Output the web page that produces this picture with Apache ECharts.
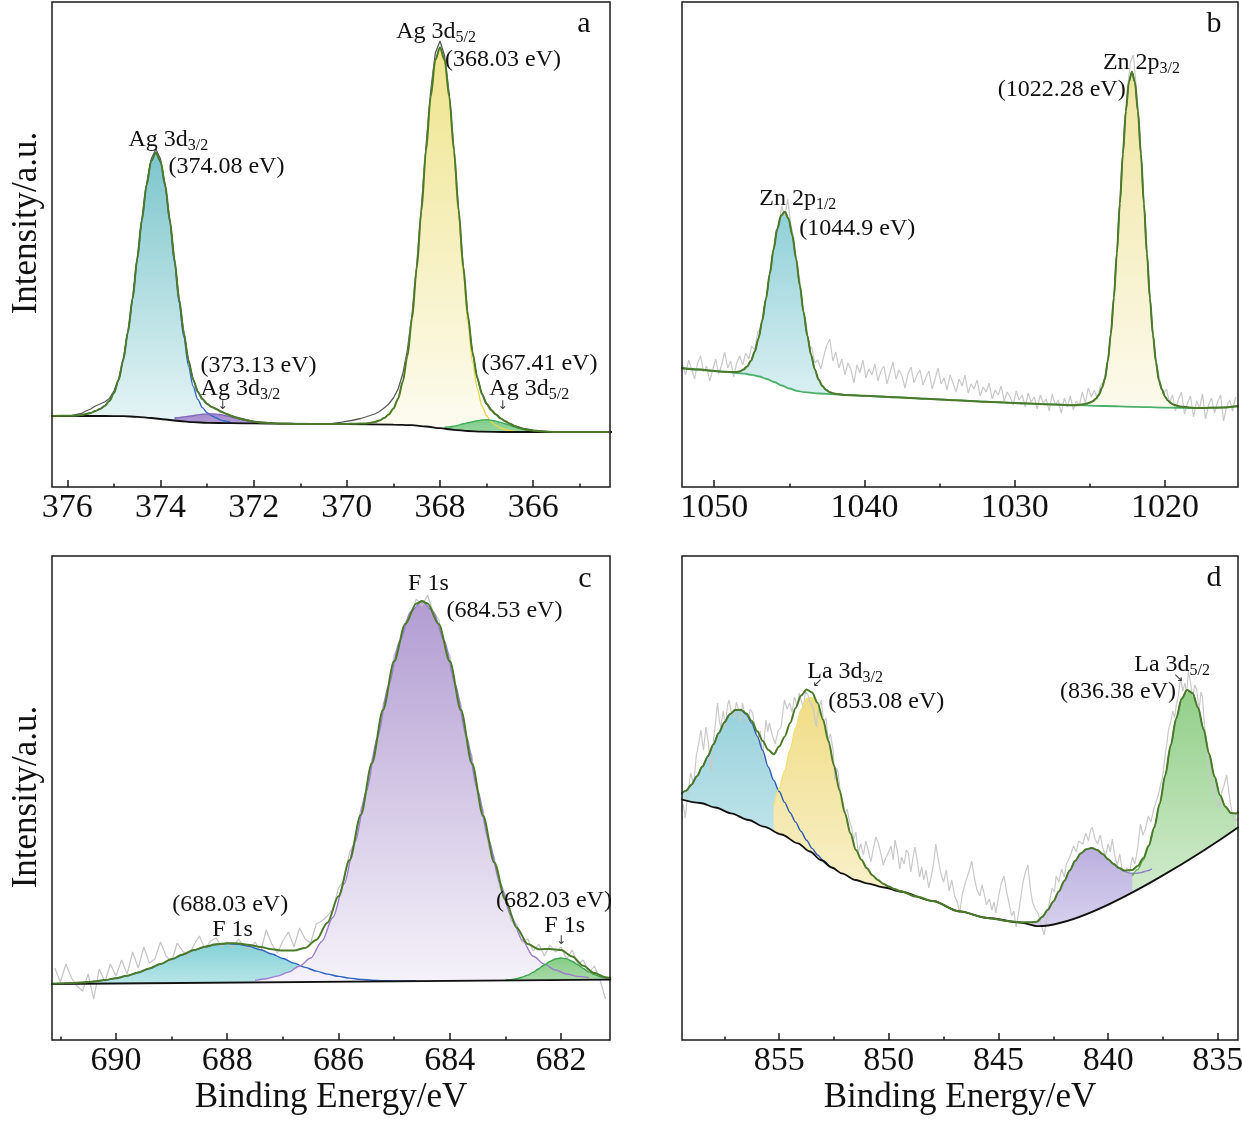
<!DOCTYPE html>
<html>
<head>
<meta charset="utf-8" />
<title>XPS Ag 3d / Zn 2p / F 1s / La 3d</title>
<script src="https://cdn.jsdelivr.net/npm/echarts@6.0.0/dist/echarts.min.js"></script>
<style>
  html, body { margin: 0; padding: 0; background: #fff; }
  #main { width: 1242px; height: 1123px; }
</style>
</head>
<body>
<div id="main"></div>
<script>
// ---------- panel a : Ag 3d ----------
var aTicks = [376, 374, 372, 370, 368, 366];
var aMinor = [375, 373, 371, 369, 367, 365];
var aBg = [[376.4,71],[375.2,71],[374.8,70.8],[374.5,70.2],[374.2,69],[373.9,67.5],[373.6,66],[373.3,64.8],[373.0,64.2],[372.5,63.8],[371.5,63.3],[370.0,62.8],[369.0,62.4],[368.6,61.8],[368.3,60.5],[368.0,58.8],[367.7,57.2],[367.4,56],[367.1,55.3],[366.6,55],[364.3,55]];
// component curves, 0.1 eV apart
var aAg32From = 375.6;
var aAg32 = [73,74,76,78,81,86,94,107,127,155,188,228,267,302,326,334.5,325,300.5,265,224.5,184,149.6,121,100.8,87.6,79.4,74.2,71.1,69,66.9,65.85,64.8];
var aAg32bFrom = 373.7;
var aAg32b = [69,69.4,70,70.7,71.3,72.1,72.7,73,73.1,72.8,72.2,71.3,70.3,69.2,68,67,66,65.3,64.7,64.2];
var aAg52From = 369.6;
var aAg52 = [63.6,64.1,65,66.5,68.9,72.4,78.4,88.3,105.2,131,168.8,218.4,276,336.5,390,426.4,438.8,425.3,387.7,333.2,271.8,213.4,163,124.7,98.5,81.3,71.2,65.1,61.55,59,57.5,56.5,56];
var aAg52bFrom = 367.9;
var aAg52b = [59.9,60.1,60.8,61.9,63.2,64.2,65.3,66.3,67,67.2,66.8,65.85,64.6,63.2,61.8,60.1,58.6,57.4,56.6,56,55.6,55.3];
var aFit = [[376.4,71],[375.9,71.2],[375.7,72],[375.6,73],[375.5,74],[375.4,76],[375.3,78],[375.2,81],[375.1,86],[375.0,94],[374.9,107],[374.8,127],[374.7,155],[374.6,188],[374.5,228],[374.4,267],[374.3,302],[374.2,326],[374.1,334.5],[374.0,325.8],[373.9,301.7],[373.8,266.8],[373.7,227],[373.6,187.4],[373.5,154],[373.4,126.5],[373.3,107.3],[373.2,95.1],[373.1,87.7],[373.0,83],[372.9,80.1],[372.8,77.8],[372.7,75.2],[372.6,73.3],[372.5,71.3],[372.4,69.7],[372.3,68.3],[372.2,67.2],[372.1,66.2],[372.0,65.4],[371.8,64.3],[371.5,63.5],[371.0,63.1],[370.5,63],[370.0,63.1],[369.8,63.3],[369.6,63.6],[369.5,64.1],[369.4,65],[369.3,66.5],[369.2,68.9],[369.1,72.4],[369.0,78.4],[368.9,88.3],[368.8,105.2],[368.7,131],[368.6,168.8],[368.5,218.4],[368.4,276],[368.3,336.5],[368.2,390.3],[368.1,427],[368.0,439.8],[367.9,426.9],[367.8,390.1],[367.7,336.8],[367.6,276.9],[367.5,220.2],[367.4,171.2],[367.3,134.3],[367.2,109.3],[367.1,93],[367.0,83.2],[366.9,76.8],[366.8,72.4],[366.7,68.6],[366.6,65.7],[366.5,63.3],[366.4,61.1],[366.3,59.3],[366.2,57.9],[366.1,57],[366.0,56.3],[365.8,55.5],[365.5,55.1],[364.3,55]];
var aRaw = [[376.4,71.5],[376.1,70.8],[375.9,71.6],[375.7,73.5],[375.6,76],[375.5,78],[375.4,81],[375.3,83],[375.2,85],[375.1,88.5],[375.0,96],[374.9,108],[374.8,128],[374.7,156],[374.6,189],[374.5,229],[374.4,268],[374.3,303],[374.2,328],[374.1,338],[374.0,328],[373.9,302],[373.8,267],[373.7,228],[373.6,188],[373.5,155],[373.4,127],[373.3,108],[373.2,96],[373.1,88.5],[373.0,83.5],[372.9,80],[372.8,78.3],[372.7,75.8],[372.6,73.5],[372.5,71.8],[372.4,70.2],[372.2,67.8],[372.0,65.7],[371.8,64.8],[371.5,63.4],[371.2,63.6],[370.9,62.9],[370.6,63.3],[370.3,63.6],[370.1,64.8],[369.9,66.5],[369.7,68.5],[369.6,70],[369.5,71.5],[369.4,73],[369.3,75.5],[369.2,79],[369.1,83],[369.0,89],[368.9,98],[368.8,113],[368.7,137],[368.6,173],[368.5,222],[368.4,280],[368.3,341],[368.2,396],[368.1,434],[368.0,446],[367.9,431],[367.8,392],[367.7,337],[367.6,277],[367.5,220],[367.4,171],[367.3,134.5],[367.2,109],[367.1,93.5],[367.0,83.5],[366.9,77.5],[366.8,72.8],[366.7,69],[366.6,66],[366.5,63.5],[366.4,61.5],[366.2,58.5],[366.0,56.8],[365.7,55.6],[365.4,55.3],[365.0,54.6],[364.7,55.4],[364.3,55]];

// ---------- panel b : Zn 2p ----------
var bTicks = [1050, 1040, 1030, 1020];
var bMinor = [1045, 1035, 1025];
var bBg = [[1052.2,119],[1051,117.5],[1050,116],[1049.3,115.2],[1049,114.8],[1048.5,114],[1048,113.3],[1047.5,112.2],[1047,110.5],[1046.5,108],[1046,105],[1045.5,101.5],[1045,98.5],[1044.5,96.2],[1044,94.8],[1043,93.5],[1042,92.6],[1040,91.2],[1038,89.8],[1036,88.3],[1034,86.8],[1032,85.3],[1030,84],[1028,82.8],[1026,81.8],[1024,81],[1022,80.2],[1020,79.4],[1018,79],[1016,79.6],[1015.1,81]];
var bZn12From = 1049.3;   // 0.25 eV apart
var bZn12 = [115.2,115.1,114.9,115.0,115.6,117.4,120.6,126.3,135.2,148.6,166.3,188.4,212.9,237.4,258,271.4,275.3,268.4,251.8,228.5,201.7,175,151.3,132.1,117.6,107.4,101,97.1,94.8,93.5,92.9,92.5,92.1];
var bZn32From = 1025.4;   // 0.2 eV apart
var bZn32 = [82.8,83.5,84.4,85.8,88.2,92.1,99,107.7,126.2,153.3,189.5,234,283.7,333.3,376,405,415.2,404.9,375.7,332.9,283.1,233.2,188.6,152.2,124.9,106.2,97.5,90.4,86.4,83.8,82.3,81.2,80.4];
var bRawFrom = 1052.1;    // 0.2 eV apart
var bRaw = [122,112,127,118,108,124,131,115,121,106,
  117,128,113,122,135,119,126,110,124,131,
  122,134,128,141,137,155,158,179,190,216,
  230,256,262,281,270,288,262,249,222,207,
  178,166,141,139,124,127,118,131,142,148,
  126,135,119,128,112,124,118,104,122,114,
  127,109,118,112,123,106,116,121,103,114,
  125,108,117,111,99,113,120,104,112,117,
  102,110,116,98,108,119,103,109,97,112,
  104,95,108,101,112,94,103,98,107,91,
  100,95,104,88,97,92,101,86,95,90,
  82,96,87,92,80,94,85,90,78,92,
  84,88,76,93,82,87,74,89,80,91,
  77,86,81,95,84,99,90,97,88,101,
  105,118,140,171,212,262,312,360,398,425,
  432,398,362,307,260,213,171,140,118,104,
  93,98,84,92,76,88,95,73,84,91,
  70,86,79,93,68,82,89,74,85,92,
  66,80,87,76,90];

// ---------- panel c : F 1s ----------
var cTicks = [690, 688, 686, 684, 682];
var cMinor = [691, 689, 687, 685, 683];
var cBg = [[691.2,56],[681.1,60.4]];
var cF1From = 691.2;      // 0.2 eV apart
var cF1 = [56.2,56.5,57.0,57.5,58.5,59.9,61.8,64.3,67.5,71.4,75.9,80.6,85.3,89.7,93.2,95.5,96.4,95.7,93.6,90.2,86.0,81.5,76.9,72.6,68.9,65.9,63.6,61.9,60.6,59.8,59.4,59.1,59.0,59.0];
var cF2From = 687.5;      // 0.2 eV apart
var cF2 = [59.6,61.2,63.9,67.9,74.0,81.95,98.55,122.8,156.2,198.7,248.7,302.6,354.85,398.95,428.45,438.9,428.6,399.3,355.4,303.25,249.55,199.75,157.4,124.2,100.1,83.7,75.85,69.95,66.05,63.65,62.2];
var cF3From = 683.0;      // 0.1 eV apart
var cF3 = [59.95,60.4,61.24,62.7,64.83,67.68,71.22,75.06,78.6,81.05,82,81.14,78.78,75.33,71.57,68.1,65.36,63.3,61.95,61.2];
var cFit = [[691.2,56.2],[691.0,56.5],[690.8,57.0],[690.6,57.5],[690.4,58.5],[690.2,59.9],[690.0,61.8],[689.8,64.3],[689.6,67.6],[689.4,71.5],[689.2,76.1],[689.0,80.9],[688.8,85.6],[688.6,90.1],[688.4,93.3],[688.2,95.7],[688.0,96.8],[687.8,96.5],[687.6,95.1],[687.4,93.0],[687.2,90.7],[687.0,89.5],[686.8,89.4],[686.6,92.1],[686.4,100.1],[686.2,117.3],[686.0,143.7],[685.8,179.9],[685.6,225.1],[685.4,276.7],[685.2,330.1],[685.0,378.7],[684.8,416],[684.6,436.4],[684.5,438.9],[684.4,436.4],[684.2,416.05],[684.0,378.7],[683.8,329.9],[683.6,276.2],[683.4,223.9],[683.2,177.5],[683.0,140.05],[682.8,112.6],[682.6,96.0],[682.4,90.7],[682.2,91.1],[682.0,90],[681.8,83.5],[681.6,74.3],[681.4,66.9],[681.2,62.75],[681.1,61.8]];
var cRawFrom = 691.1;     // 0.1 eV apart
var cRaw = [72,58,76,62,54,49,66,41,71,58,
  76,64,80,66,88,72,93,77,81,98,
  84,78,97,89,83,95,104,91,99,102,
  93,98,92,101,94,90,98,88,110,96,
  87,99,108,93,112,101,97,116,119,124,
  131,152,160,188,198,231,247,281,296,336,
  350,385,396,418,424,441,434,445,428,421,
  394,385,352,336,298,284,246,230,193,183,
  152,146,119,116,98,101,89,96,84,95,
  88,93,81,90,76,80,67,74,60,41];

// ---------- panel d : La 3d ----------
var dTicks = [855, 850, 845, 840, 835];
var dMinor = [857.5, 852.5, 847.5, 842.5, 837.5];
var dBg = [[859.5,240.7],[858.6,237],[857.9,232.5],[857.2,226.7],[856.4,220],[855.7,213.3],[854.9,205.5],[854.15,196.7],[853.6,188.5],[853.1,180],[852.6,172.5],[852.15,166.7],[851.5,160],[851.0,156.7],[850.2,152.5],[849.5,148.5],[848,139],[846.8,128.7],[845.5,122],[844,117.5],[843.2,113.8],[834.05,213.1]];
var dLa1From = 859.5;     // 0.25 eV apart
var dLa1 = [245.7,249.2,255.3,263.8,273.4,283.8,295.6,307.2,317.6,325.7,330,330.2,325.6,316.8,303.9,289.6,273.3,259.7,248.5,237.6,227.3,217.9,208.5,199.8,191.6,185,179.6,175.1];
var dLa2From = 855.25;
var dLa2 = [234.7,251.4,269.3,290.5,312.1,330.4,341.5,342.6,334.5,319.3,298.4,274.4,249.8,226.8,206.6,189.9,180.3,171.7,164.8,160,156.3,153.4,151,149];
var dSatFrom = 843.5;
var dSat = [117.8,118.2,123.2,130.2,138.6,148.5,159,169.6,179.2,186.5,190.8,192,190.1,186,180.8,175.8,171.4,168.4,166.9,166.6,167.4,169.1,171.2];
var dLa3From = 838.9;
var dLa3 = [164.2,170.6,179.9,193.5,212.1,236.1,264.5,294.4,321.4,341.2,350.1,346.7,332.3,310.7,286.4,263.4,244.8,233.2,226.9,226.6];
var dFit = [[859.5,245.7],[859.25,249.2],[859.0,255.3],[858.75,263.8],[858.5,273.4],[858.25,283.8],[858.0,295.6],[857.75,307.2],[857.5,317.6],[857.25,325.7],[857.0,330],[856.75,330.2],[856.5,326.6],[856.25,319.1],[856.0,308.8],[855.75,299.1],[855.5,290.3],[855.25,285.7],[855.0,293.4],[854.75,303.3],[854.5,317],[854.25,332.1],[854.0,344.4],[853.75,350.5],[853.5,347.6],[853.25,337],[853.0,320.3],[852.75,298.7],[852.5,274.4],[852.25,249.8],[852.0,226.8],[851.75,206.6],[851.5,189.9],[851.25,180.3],[851.0,171.7],[850.75,164.8],[850.5,160],[850.25,156.3],[850.0,153.4],[849.75,151],[849.5,149],[848.75,143.5],[848,139],[846.8,128.7],[845.5,122],[844.5,118.8],[844,117.6],[843.5,117.8],[843.25,118.2],[843.0,123.2],[842.75,130.2],[842.5,138.6],[842.25,148.5],[842.0,159],[841.75,169.6],[841.5,179.2],[841.25,186.5],[841.0,190.8],[840.75,192],[840.5,190.1],[840.25,186],[840.0,180.8],[839.75,176],[839.5,171.9],[839.25,169.5],[838.9,170],[838.65,174],[838.4,181.7],[838.15,194.4],[837.9,212.5],[837.65,236.3],[837.4,264.6],[837.15,294.4],[836.9,321.4],[836.65,341.2],[836.4,350.1],[836.15,346.7],[835.9,332.3],[835.65,310.7],[835.4,286.4],[835.15,263.4],[834.9,244.8],[834.65,233.2],[834.4,226.9],[834.15,226.6],[834.05,228]];
var dRaw = [[859.48,228],[859.38,236],[859.28,222],[859.15,249],[859.03,267],[858.9,255],[858.78,284],[858.67,296],[858.57,310],[858.45,290],[858.34,313],[858.22,296],[858.11,267],[857.98,302],[857.88,322],[857.81,337],[857.72,318],[857.66,313],[857.55,329],[857.45,312],[857.36,334],[857.28,340],[857.17,326],[857.05,323],[856.95,338],[856.85,330],[856.76,318],[856.67,337],[856.55,324],[856.44,317],[856.32,331],[856.21,327],[856.1,312],[855.98,300],[855.86,309],[855.75,283],[855.68,302],[855.6,320],[855.52,308],[855.45,317],[855.3,304],[855.18,296],[855.05,309],[854.91,313],[854.84,326],[854.76,340],[854.64,331],[854.52,337],[854.41,328],[854.3,343],[854.18,334],[854.09,347],[854.0,340],[853.9,332],[853.8,348],[853.69,345],[853.6,338],[853.46,333],[853.38,322],[853.31,313],[853.2,331],[853.08,340],[852.98,318],[852.86,322],[852.77,300],[852.66,306],[852.54,290],[852.46,260],[852.38,272],[852.31,267],[852.2,246],[852.1,238],[852.01,227],[851.9,231],[851.8,219],[851.7,213],[851.6,201],[851.5,208],[851.4,187],[851.28,196],[851.16,185],[851.05,199],[850.94,190],[850.82,178],[850.7,192],[850.59,203],[850.48,197],[850.36,186],[850.25,175],[850.14,182],[850.03,187],[849.9,194],[849.8,180],[849.72,200],[849.6,188],[849.5,171],[849.42,183],[849.3,176],[849.2,190],[849.11,187],[849.0,168],[848.9,182],[848.81,193],[848.7,179],[848.6,163],[848.5,173],[848.41,160],[848.3,170],[848.18,152],[848.05,165],[847.95,178],[847.86,196],[847.75,181],[847.62,166],[847.5,158],[847.38,170],[847.25,149],[847.13,160],[847.0,144],[846.88,138],[846.77,127],[846.65,146],[846.5,158],[846.35,168],[846.22,179],[846.1,162],[845.98,150],[845.85,144],[845.75,155],[845.67,148],[845.55,135],[845.42,141],[845.3,130],[845.2,138],[845.12,127],[845.0,143],[844.88,156],[844.75,164],[844.62,147],[844.5,135],[844.4,124],[844.3,129],[844.2,113],[844.1,125],[844.0,140],[843.88,158],[843.77,168],[843.66,175],[843.55,152],[843.45,138],[843.33,131],[843.2,127],[843.05,115],[842.92,105],[842.8,121],[842.68,138],[842.55,152],[842.45,148],[842.37,164],[842.25,158],[842.12,171],[842.0,163],[841.9,176],[841.83,179],[841.7,186],[841.58,194],[841.45,188],[841.35,199],[841.28,201],[841.15,196],[841.02,207],[840.9,199],[840.8,210],[840.73,213],[840.6,201],[840.48,196],[840.36,205],[840.25,192],[840.12,185],[840.0,196],[839.9,188],[839.81,201],[839.7,184],[839.58,175],[839.47,186],[839.36,170],[839.26,164],[839.15,172],[839.02,168],[838.9,183],[838.78,176],[838.65,192],[838.53,216],[838.42,205],[838.3,211],[838.17,224],[838.05,218],[837.92,231],[837.8,239],[837.68,248],[837.6,256],[837.53,261],[837.42,282],[837.33,295],[837.25,310],[837.15,318],[837.05,329],[836.97,322],[836.89,336],[836.8,344],[836.7,362],[836.6,349],[836.5,357],[836.42,346],[836.34,369],[836.25,358],[836.15,343],[836.05,355],[835.97,351],[835.85,330],[835.77,348],[835.7,343],[835.6,312],[835.5,296],[835.42,269],[835.33,262],[835.22,251],[835.12,243],[835.05,239],[834.95,232],[834.85,246],[834.75,252],[834.68,258],[834.6,265],[834.5,249],[834.42,236],[834.32,224],[834.2,219],[834.05,222]];

// annotations: [energy, intensity, text, subscript]
var aNotes = [[374.69,347,'Ag 3d','3/2'],[373.83,320,'(374.08 eV)',''],[368.94,455,'Ag 3d','5/2'],[367.89,427,'(368.03 eV)',''],[373.14,121,'(373.13 eV)',''],[373.14,98,'Ag 3d','3/2'],[367.11,123,'(367.41 eV)',''],[366.94,98,'Ag 3d','5/2']];
var aArrows = [[372.67,81,'\u2193'],[366.66,81,'\u2193']];
var bNotes = [[1024.13,424,'Zn 2p','3/2'],[1031.13,397,'(1022.28 eV)',''],[1047.0,288,'Zn 2p','1/2'],[1044.33,258,'(1044.9 eV)','']];
var cNotes = [[684.75,456,'F 1s',''],[684.06,429,'(684.53 eV)',''],[688.99,135,'(688.03 eV)',''],[688.27,110,'F 1s',''],[683.17,139,'(682.03 eV)',''],[682.30,114,'F 1s','']];
var cArrows = [[682.0,99,'\u2193']];
var dNotes = [[853.72,368,'La 3d','3/2'],[852.76,338,'(853.08 eV)',''],[838.81,375,'La 3d','5/2'],[842.19,348,'(836.38 eV)','']];
var dArrows = [[853.26,357,'\u2199'],[836.79,362,'\u2198']];

// ---------- build ----------
var FONT = 'Liberation Serif, Times New Roman, serif';
function seq(from, step, ys) {
  return ys.map(function (y, i) { return [Math.round((from + i * step) * 1000) / 1000, y]; });
}
var bFit = bBg.filter(function (p) { return p[0] > 1049.3; })
  .concat(seq(bZn12From, -0.25, bZn12))
  .concat(bBg.filter(function (p) { return p[0] < 1041.3 && p[0] > 1025.4; }))
  .concat(seq(bZn32From, -0.2, bZn32))
  .concat(bBg.filter(function (p) { return p[0] < 1019; }));

var panels = [
  { rect: {left: 52, top: 2, width: 558, height: 485}, range: [364.35, 376.33], ymax: 485,
    ticks: aTicks, minor: aMinor, name: '',
    bg: aBg, bgColor: '#111111', fit: aFit, raw: aRaw, rawColor: '#5c5c5c', rawWidth: 1.3,
    comps: [
      {data: seq(aAg32From, -0.1, aAg32), fill: '#7cc6cc', line: '#2f66c8'},
      {data: seq(aAg32bFrom, -0.1, aAg32b), fill: '#a58ccd', line: '#8466bf'},
      {data: seq(aAg52From, -0.1, aAg52), fill: '#efe48c', line: '#e6d84e'},
      {data: seq(aAg52bFrom, -0.1, aAg52b), fill: '#80cc8a', line: '#3eae5a'}
    ]},
  { rect: {left: 682, top: 2, width: 556, height: 485}, range: [1015.14, 1052.14], ymax: 485,
    ticks: bTicks, minor: bMinor, name: '',
    bg: bBg, bgColor: '#4cb06c', fit: bFit, raw: seq(bRawFrom, -0.2, bRaw), rawColor: '#c9c9c9', rawWidth: 1.2,
    comps: [
      {data: seq(bZn12From, -0.25, bZn12), fill: '#8fd0d8', line: '#4b7a2a'},
      {data: seq(bZn32From, -0.2, bZn32), fill: '#f0e5a0', line: '#4b7a2a'}
    ]},
  { rect: {left: 52, top: 556, width: 558, height: 484}, range: [681.12, 691.15], ymax: 484,
    ticks: cTicks, minor: cMinor, name: 'Binding Energy/eV',
    bg: cBg, bgColor: '#111111', fit: cFit, raw: seq(cRawFrom, -0.1, cRaw), rawColor: '#c4c4c4', rawWidth: 1.2,
    comps: [
      {data: seq(cF1From, -0.2, cF1), fill: '#84d2d6', line: '#2b62c2'},
      {data: seq(cF2From, -0.2, cF2), fill: '#b29cd2', line: '#9c7ccc'},
      {data: seq(cF3From, -0.1, cF3), fill: '#86cc86', line: '#3ca34e'}
    ]},
  { rect: {left: 682, top: 556, width: 556, height: 484}, range: [834.08, 859.43], ymax: 484,
    ticks: dTicks, minor: dMinor, name: 'Binding Energy/eV',
    bg: dBg, bgColor: '#111111', fit: dFit, raw: dRaw, rawColor: '#c9c9c9', rawWidth: 1.2,
    comps: [
      {data: seq(dLa1From, -0.25, dLa1), fill: '#98d2dc', line: '#2b5cb0'},
      {data: seq(dLa2From, -0.25, dLa2), fill: '#f0dd86', line: '#efe07a'},
      {data: seq(dSatFrom, -0.25, dSat), fill: '#bbb0e0', line: '#8f82c8'},
      {data: seq(dLa3From, -0.25, dLa3), fill: '#92cf88', line: '#5aaa4c'}
    ]}
];

var grids = [], xAxes = [], yAxes = [], series = [], anchor = [];
panels.forEach(function (p, g) {
  grids.push(Object.assign({show: true, borderColor: '#1a1a1a', borderWidth: 1.5, z: 10,
    backgroundColor: 'rgba(0,0,0,0)', containLabel: false, outerBoundsMode: 'none'}, p.rect));
  var tickStyle = {color: '#1a1a1a', width: 1.5};
  xAxes.push({gridIndex: g, type: 'value', position: 'bottom', min: p.range[0], max: p.range[1], inverse: true, z: 10,
    axisLine: {show: false}, splitLine: {show: false},
    axisTick: {show: true, inside: true, length: 7, customValues: p.ticks, lineStyle: tickStyle},
    axisLabel: {customValues: p.ticks, margin: 4, fontSize: 34, fontFamily: FONT, color: '#111',
      formatter: function (v) { return String(v); }},
    name: p.name, nameLocation: 'middle', nameGap: 40, nameMoveOverlap: false,
    nameTextStyle: {fontSize: 35, fontFamily: FONT, color: '#111'}});
  xAxes.push({gridIndex: g, type: 'value', position: 'bottom', min: p.range[0], max: p.range[1], inverse: true, z: 10,
    axisLine: {show: false}, splitLine: {show: false}, axisLabel: {show: false},
    axisTick: {show: true, inside: true, length: 3.5, customValues: p.minor, lineStyle: tickStyle}});
  yAxes.push({gridIndex: g, type: 'value', min: 0, max: p.ymax, show: false, splitLine: {show: false}});

  function line(extra) {
    return Object.assign({type: 'line', xAxisIndex: g * 2, yAxisIndex: g, showSymbol: false, symbol: 'none',
      silent: true, animation: false, smooth: 0.3, smoothMonotone: 'x'}, extra);
  }
  p.comps.forEach(function (c) {
    series.push(line({data: c.data, z: 1, lineStyle: {width: 0, opacity: 0},
      areaStyle: {opacity: 1, color: new echarts.graphic.LinearGradient(0, 0, 0, 1,
        [{offset: 0, color: c.fill}, {offset: 1, color: '#ffffff'}])}}));
  });
  // white area under the background hides the fills below it
  series.push(line({data: p.bg, z: 2, lineStyle: {width: 0, opacity: 0}, areaStyle: {opacity: 1, color: '#ffffff'}}));
  series.push(line({data: p.raw, z: 3, smooth: false, lineStyle: {width: p.rawWidth, color: p.rawColor}}));
  p.comps.forEach(function (c) {
    series.push(line({data: c.data, z: 4, lineStyle: {width: 1.4, color: c.line}}));
  });
  anchor[g] = series.length;
  series.push(line({data: p.bg, z: 5, lineStyle: {width: 1.8, color: p.bgColor}}));
  series.push(line({data: p.fit, z: 6, lineStyle: {width: 2, color: '#4b7a2a'}}));
});

var chart = echarts.init(document.getElementById('main'));
chart.setOption({
  backgroundColor: '#ffffff',
  animation: false,
  grid: grids,
  xAxis: xAxes,
  yAxis: yAxes,
  series: series
});

var rich = {
  m: {fontSize: 24, lineHeight: 28, fontFamily: FONT, fill: '#111', color: '#111'},
  s: {fontSize: 16, lineHeight: 16, fontFamily: FONT, fill: '#111', color: '#111', verticalAlign: 'bottom'}
};
var graphics = [];
function addNotes(g, list) {
  list.forEach(function (n) {
    var pt = chart.convertToPixel({seriesIndex: anchor[g]}, [n[0], n[1]]);
    graphics.push({type: 'text', x: pt[0], y: pt[1], z: 100, silent: true,
      style: {text: n[3] ? '{m|' + n[2] + '}{s|' + n[3] + '}' : '{m|' + n[2] + '}', rich: rich,
        fontSize: 24, fontFamily: FONT, fill: '#111',
        align: 'left', verticalAlign: 'middle', textAlign: 'left', textVerticalAlign: 'middle'}});
  });
}
function addArrows(g, list) {
  list.forEach(function (n) {
    var pt = chart.convertToPixel({seriesIndex: anchor[g]}, [n[0], n[1]]);
    graphics.push({type: 'text', x: pt[0], y: pt[1], z: 100, silent: true,
      style: {text: n[2], fontSize: 12, fontFamily: 'DejaVu Sans', fill: '#333',
        align: 'center', verticalAlign: 'middle', textAlign: 'center', textVerticalAlign: 'middle'}});
  });
}
addNotes(0, aNotes); addArrows(0, aArrows);
addNotes(1, bNotes);
addNotes(2, cNotes); addArrows(2, cArrows);
addNotes(3, dNotes); addArrows(3, dArrows);

// panel letters and y-axis titles
[['a', 584, 24], ['b', 1214, 24], ['c', 585, 579], ['d', 1214, 578]].forEach(function (l) {
  graphics.push({type: 'text', x: l[1], y: l[2], z: 100, silent: true,
    style: {text: l[0], fontSize: 30, fontFamily: FONT, fill: '#111',
      align: 'center', verticalAlign: 'middle', textAlign: 'center', textVerticalAlign: 'middle'}});
});
[[27, 223], [27, 797]].forEach(function (t) {
  graphics.push({type: 'text', x: t[0], y: t[1], rotation: Math.PI / 2, z: 100, silent: true,
    style: {text: 'Intensity/a.u.', fontSize: 35, fontFamily: FONT, fill: '#111',
      align: 'center', verticalAlign: 'middle', textAlign: 'center', textVerticalAlign: 'middle'}});
});
chart.setOption({graphic: graphics});
</script>
</body>
</html>
